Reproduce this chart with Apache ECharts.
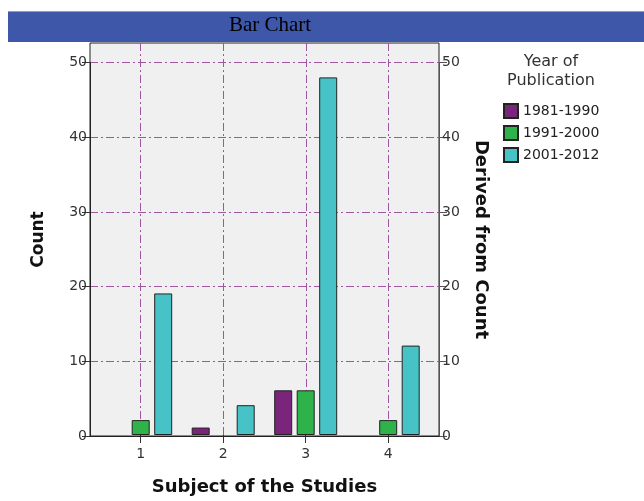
<!DOCTYPE html>
<html><head><meta charset="utf-8">
<script src="https://cdn.jsdelivr.net/npm/echarts@6/dist/echarts.min.js"></script>
<style>html,body{margin:0;padding:0;background:#fff}#c{width:644px;height:501px}</style>
</head><body><div id="c"></div>
<script>
// ---- data ----
const categories = ['1', '2', '3', '4'];
const seriesNames = ['1981-1990', '1991-2000', '2001-2012'];
const v1981_1990 = [0, 1, 6, 0];
const v1991_2000 = [2, 0, 6, 2];
const v2001_2012 = [19, 4, 48, 12];
const yMin = 0, yMax = 50, yStep = 10;

// ---- style ----
const colors = ['#7a257b', '#2db34a', '#47c3c8'];
const FONT = 'DejaVu Sans';
const gridLineColor = '#a0559f';
const dashDot = [8, 3, 2, 3];

const chart = echarts.init(document.getElementById('c'), null, {renderer: 'canvas'});
const seriesValues = [v1981_1990, v1991_2000, v2001_2012];

const option = {
  animation: false,
  backgroundColor: '#ffffff',
  graphic: [{
    type: 'rect', z: -5,
    shape: {x: 8, y: 11, width: 636, height: 31},
    style: {fill: '#3e57a9'}
  }, {
    type: 'rect', z: -4,
    shape: {x: 8, y: 11, width: 636, height: 1},
    style: {fill: '#8c9dd0'}
  }],
  title: [{
    text: 'Bar Chart', left: 270, top: 15, padding: 0, textAlign: 'center',
    textStyle: {fontFamily: 'Liberation Serif', fontSize: 21, fontWeight: 'normal', color: '#000'}
  }, {
    text: 'Year of\nPublication', left: 551, top: 52, padding: 0, textAlign: 'center',
    textStyle: {fontFamily: FONT, fontSize: 16, lineHeight: 19, fontWeight: 'normal', color: '#333'}
  }],
  legend: {
    data: seriesNames, orient: 'vertical', left: 503, top: 103, padding: 0,
    itemWidth: 14, itemHeight: 14, itemGap: 6, icon: 'rect',
    textStyle: {fontFamily: FONT, fontSize: 14, lineHeight: 14, color: '#222'}
  },
  grid: [
    {left: 90, top: 43, width: 349, height: 393, show: true, backgroundColor: '#f0f0f0', borderColor: '#222', borderWidth: 1},
    {left: 90, top: 62.5, width: 349, height: 373.5},
    {left: 99.45, top: 62.5, width: 330, height: 373.5},
    {left: 140.7, top: 43, width: 247.6, height: 393}
  ],
  xAxis: [
    {gridIndex: 0, type: 'value', show: false},
    {gridIndex: 1, type: 'value', position: 'bottom', z: 5,
      axisLine: {show: true, onZero: false, lineStyle: {color: '#222', width: 1}},
      axisTick: {show: false}, axisLabel: {show: false}, splitLine: {show: false}},
    {gridIndex: 2, type: 'category', data: categories,
      name: 'Subject of the Studies', nameLocation: 'middle', nameGap: 43,
      nameTextStyle: {fontFamily: FONT, fontSize: 18, fontWeight: 'bold', color: '#111'},
      axisLine: {show: false},
      axisTick: {show: true, alignWithLabel: true, length: 8, lineStyle: {color: '#333'}},
      axisLabel: {fontFamily: FONT, fontSize: 14, color: '#333', margin: 12},
      splitLine: {show: false}},
    {gridIndex: 3, type: 'value', min: 1, max: 4, interval: 1,
      axisLine: {show: false}, axisTick: {show: false}, axisLabel: {show: false},
      splitLine: {show: true, lineStyle: {color: gridLineColor, width: 1, type: dashDot}}}
  ],
  yAxis: [
    {gridIndex: 0, type: 'value', position: 'left', name: 'Count', nameLocation: 'middle', nameRotate: 90, nameGap: 43,
      nameTextStyle: {fontFamily: FONT, fontSize: 17, fontWeight: 'bold', color: '#111'},
      axisLine: {show: false}, axisTick: {show: false}, axisLabel: {show: false}, splitLine: {show: false}},
    {gridIndex: 0, type: 'value', position: 'right', name: 'Derived from Count', nameLocation: 'middle', nameRotate: -90, nameGap: 33,
      nameTextStyle: {fontFamily: FONT, fontSize: 18, fontWeight: 'bold', color: '#111'},
      axisLine: {show: false}, axisTick: {show: false}, axisLabel: {show: false}, splitLine: {show: false}},
    {gridIndex: 1, type: 'value', position: 'left', min: yMin, max: yMax, interval: yStep,
      axisLine: {show: true, lineStyle: {color: '#222'}},
      axisTick: {show: true, length: 8, lineStyle: {color: '#333'}},
      axisLabel: {fontFamily: FONT, fontSize: 14, color: '#333', margin: 3},
      splitLine: {show: true, lineStyle: {color: gridLineColor, width: 1, type: dashDot}}},
    {gridIndex: 1, type: 'value', position: 'right', min: yMin, max: yMax, interval: yStep,
      axisLine: {show: true, lineStyle: {color: '#555'}},
      axisTick: {show: true, length: 8, lineStyle: {color: '#555'}},
      axisLabel: {fontFamily: FONT, fontSize: 14, color: '#333', margin: 3},
      splitLine: {show: false}},
    {gridIndex: 2, type: 'value', min: yMin, max: yMax, show: false},
    {gridIndex: 3, type: 'value', show: false}
  ],
  series: seriesNames.map((n, i) => ({
    name: n, type: 'bar', xAxisIndex: 2, yAxisIndex: 4,
    // zero counts are not drawn as bars in the reference
    data: seriesValues[i].map(v => (v === 0 ? '-' : v)),
    barWidth: 18, barGap: '25%',
    itemStyle: {color: colors[i], borderColor: '#222', borderWidth: 1}
  }))
};
chart.setOption(option);
</script></body></html>
